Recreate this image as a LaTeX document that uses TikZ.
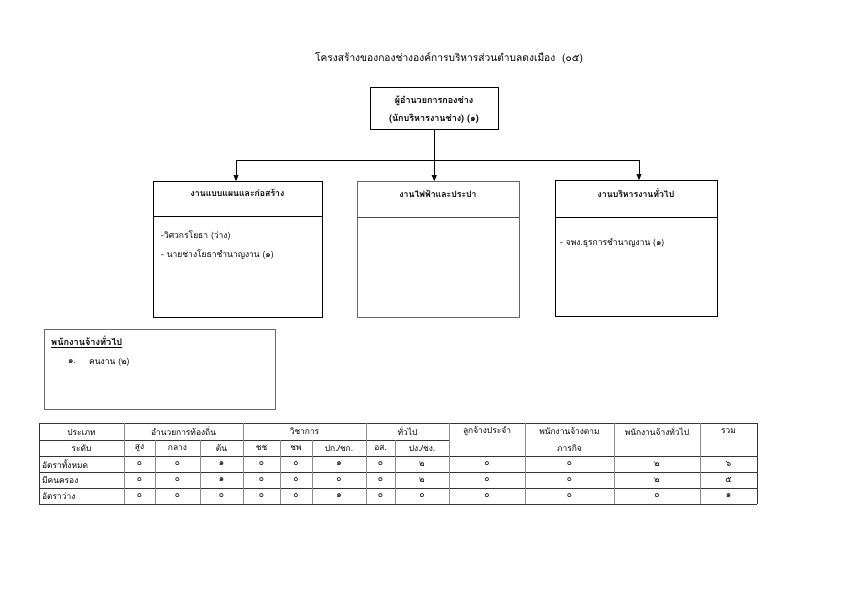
\documentclass[tikz,border=0pt]{standalone}
\usepackage{fontspec}
\setmainfont[Script=Thai]{Loma}
\usetikzlibrary{arrows.meta}
\tikzset{
  blackbox/.style={draw=black, line width=0.5pt, inner sep=0pt, anchor=north west},
  graybox/.style={draw=black!60, line width=0.9pt, inner sep=0pt, anchor=north west},
  conn/.style={draw=black, line width=0.6pt},
  arr/.style={conn, -{Triangle[width=5pt,length=6pt]}},
  head/.style={font=\fontsize{8.7}{10}\selectfont\bfseries, inner sep=0pt},
  item/.style={font=\fontsize{8.5}{10}\selectfont, inner sep=0pt, anchor=west},
  cell/.style={font=\fontsize{8.4}{9}\selectfont, inner sep=0pt},
  hline/.style={draw=black!80, line width=0.6pt},
  vline/.style={draw=black!45, line width=0.8pt},
}
\begin{document}
\begin{tikzpicture}[x=1pt,y=-1pt]
\useasboundingbox (0,0) rectangle (842,595);
\fill[white] (0,0) rectangle (842,595);

% title
\node[font=\fontsize{10.2}{12}\selectfont, inner sep=0pt] (title) at (449,58) {โครงสร้างของกองช่างองค์การบริหารส่วนตำบลดงเมือง \ (๐๕)};

% top box
\node[blackbox, minimum width=128pt, minimum height=42pt] (top) at (370,87) {};
\node[head, font=\fontsize{9}{10}\selectfont\bfseries] (topa) at (434,101) {ผู้อำนวยการกองช่าง};
\node[head, font=\fontsize{9}{10}\selectfont\bfseries] (topb) at (434,119) {(นักบริหารงานช่าง) (๑)};

% three boxes
\node[blackbox, minimum width=169pt, minimum height=136pt] (left) at (153,181) {};
\node[graybox, minimum width=162pt, minimum height=136pt] (mid) at (357,181) {};
\node[blackbox, minimum width=162pt, minimum height=136pt] (right) at (555,180) {};

\draw[black, line width=0.5pt] (153,216) -- (322,216);
\draw[black!70, line width=0.8pt] (357,217) -- (519,217);
\draw[black, line width=0.5pt] (555,217) -- (717,217);

\node[head] (lefth) at (237.5,193) {งานแบบแผนและก่อสร้าง};
\node[head] (midh) at (438,194) {งานไฟฟ้าและประปา};
\node[head] (righth) at (636,193) {งานบริหารงานทั่วไป};

\node[item] (l1) at (161,236) {-วิศวกรโยธา (ว่าง)};
\node[item] (l2) at (161,255) {- นายช่างโยธาชำนาญงาน (๑)};
\node[item] (r1) at (560,243) {- จพง.ธุรการชำนาญงาน (๑)};

% connectors
\coordinate (hl) at (236,160);
\coordinate (hr) at (639,160);
\draw[conn] (hl) -- (hr);
\draw[arr] (top.south) -- (top.south |- mid.north);
\draw[arr] (hl) -- (hl |- left.north);
\draw[arr] (hr) -- (hr |- right.north);

% small box
\node[graybox, minimum width=231pt, minimum height=80pt] (emp) at (44,329) {};
\node[item, font=\fontsize{9.2}{10}\selectfont\bfseries] (emph) at (51,342) {\underline{พนักงานจ้างทั่วไป}};
\node[item] (emp1n) at (68,362) {๑.};
\node[item] (emp1) at (89,362) {คนงาน (๒)};

% table
\def\yA{423}\def\yB{440}\def\yC{456}\def\yD{472}\def\yE{488}\def\yF{504}
% horizontal lines
\draw[hline] (39,\yA) -- (757,\yA);
\draw[hline] (39,\yB) -- (449,\yB);
\draw[hline] (39,\yC) -- (757,\yC);
\draw[hline] (39,\yD) -- (757,\yD);
\draw[hline] (39,\yE) -- (757,\yE);
\draw[hline] (39,\yF) -- (757,\yF);
% vertical lines
\draw[hline] (39,\yA) -- (39,\yF);
\draw[hline] (757,\yA) -- (757,\yF);
\foreach \x in {124,243,366,449,525,614,700} \draw[vline] (\x,\yA) -- (\x,\yF);
\foreach \x in {155,200,280,312,395} \draw[vline] (\x,\yB) -- (\x,\yF);

% header row 1
\node[cell] (h1) at (81.5,432) {ประเภท};
\node[cell] (h2) at (183.5,431) {อำนวยการท้องถิ่น};
\node[cell] (h3) at (304.5,431) {วิชาการ};
\node[cell] (h4) at (407.5,431) {ทั่วไป};
\node[cell] (h5) at (487,431) {ลูกจ้างประจำ};
\node[cell] (h6) at (569.5,431) {พนักงานจ้างตาม};
\node[cell] (h6b) at (569.5,448) {ภารกิจ};
\node[cell] (h7) at (657,431) {พนักงานจ้างทั่วไป};
\node[cell] (h8) at (728.5,431) {รวม};
% header row 2
\node[cell] (g1) at (81.5,448) {ระดับ};
\node[cell] (g2) at (139.5,448) {สูง};
\node[cell] (g3) at (177.5,448) {กลาง};
\node[cell] (g4) at (221.5,448) {ต้น};
\node[cell] (g5) at (261.5,448) {ชช};
\node[cell] (g6) at (296,448) {ชพ};
\node[cell] (g7) at (339,448) {ปก./ชก.};
\node[cell] (g8) at (380.5,448) {อส.};
\node[cell] (g9) at (422,448) {ปง./ชง.};

% data rows
\node[cell, anchor=west] (ra) at (42,464) {อัตราทั้งหมด};
\node[cell, anchor=west] (rb) at (42,480) {มีคนครอง};
\node[cell, anchor=west] (rc) at (42,496) {อัตราว่าง};
\foreach \x/\v [count=\i] in {139.5/๐,177.5/๐,221.5/๑,261.5/๐,296/๐,339/๑,380.5/๐,422/๒,487/๐,569.5/๐,657/๒,728.5/๖}
  \node[cell] (da\i) at (\x,464) {\v};
\foreach \x/\v [count=\i] in {139.5/๐,177.5/๐,221.5/๑,261.5/๐,296/๐,339/๐,380.5/๐,422/๒,487/๐,569.5/๐,657/๒,728.5/๕}
  \node[cell] (db\i) at (\x,480) {\v};
\foreach \x/\v [count=\i] in {139.5/๐,177.5/๐,221.5/๐,261.5/๐,296/๐,339/๑,380.5/๐,422/๐,487/๐,569.5/๐,657/๐,728.5/๑}
  \node[cell] (dc\i) at (\x,496) {\v};
\end{tikzpicture}
\end{document}
